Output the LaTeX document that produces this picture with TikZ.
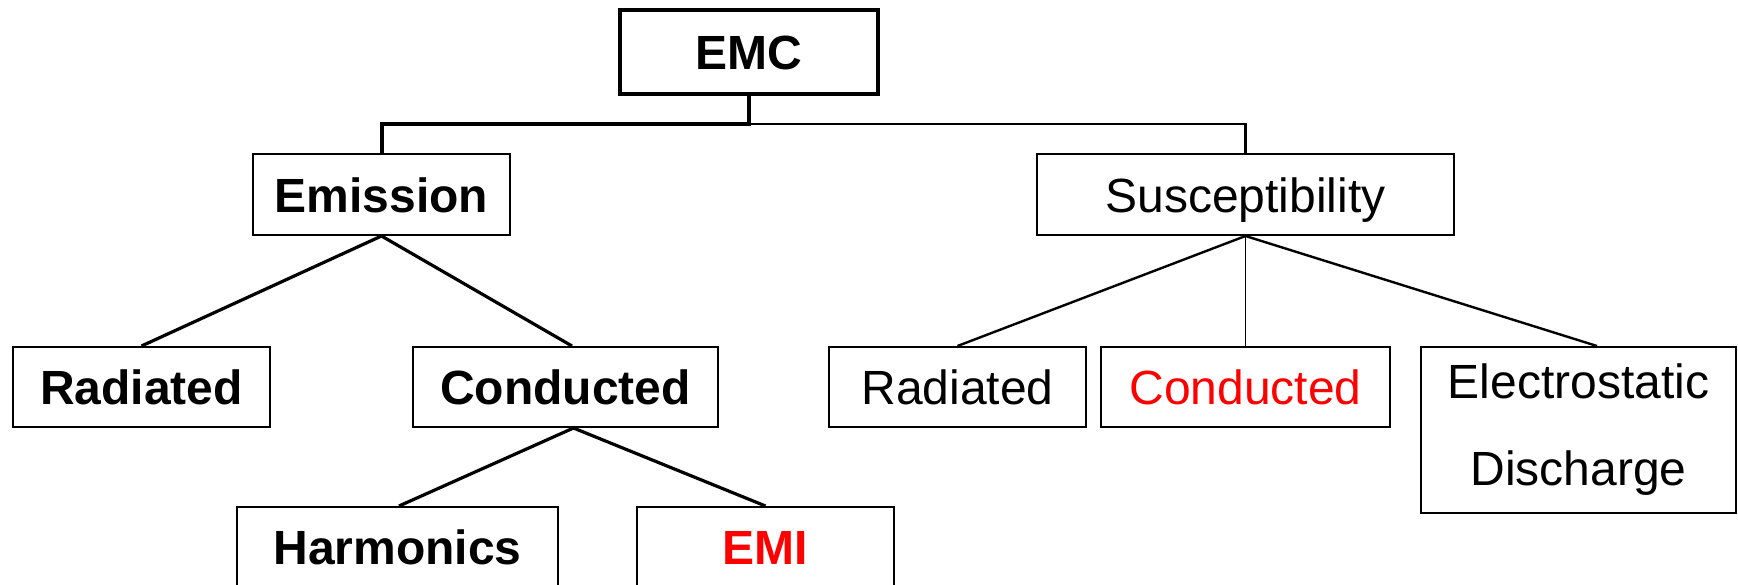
\documentclass[tikz,border=0pt]{standalone}
\usepackage{fontspec}
\setmainfont{Liberation Sans}
\begin{document}
\begin{tikzpicture}[x=1pt,y=-1pt,
  box/.style={draw, line width=2pt, inner sep=0pt, font=\fontsize{48}{57}\selectfont},
  oneline/.style={text height=35pt, text depth=0pt},
  bbox/.style={box, oneline, font=\fontsize{48}{57}\selectfont\bfseries},
  rbox/.style={box, oneline},
  thickcon/.style={line width=4pt},
  medcon/.style={line width=3.2pt},
  thincon/.style={line width=2.4pt},
  hair/.style={line width=1.6pt}]
\useasboundingbox (0,0) rectangle (1738,584);
\fill[white] (0,0) rectangle (1738,584);

\node[bbox, line width=4.5pt, minimum width=258pt, minimum height=84pt] (emc) at (749,52) {EMC};
\node[bbox, minimum width=257pt, minimum height=81pt] (emission) at (381.5,194.5) {Emission};
\node[rbox, minimum width=417pt, minimum height=81pt] (susc) at (1245.5,194.5) {Susceptibility};

\node[bbox, minimum width=257pt, minimum height=80pt] (rad1) at (141.5,387) {Radiated};
\node[bbox, minimum width=305pt, minimum height=80pt] (cond1) at (565.5,387) {Conducted};
\node[rbox, minimum width=257pt, minimum height=80pt] (rad2) at (957.5,387) {Radiated};
\node[rbox, text=red, minimum width=289pt, minimum height=80pt] (cond2) at (1245.5,387) {Conducted};
\node[box, align=center, font=\fontsize{48}{87}\selectfont, minimum width=315pt, minimum height=166pt] (esd) at (1578.5,430) {Electrostatic\\Discharge};

\node[bbox, minimum width=321pt, minimum height=80pt] (harm) at (397.5,547) {Harmonics};
\node[bbox, text=red, minimum width=257pt, minimum height=80pt] (emi) at (765.5,547) {EMI};

\coordinate (j) at (749,124);
\draw[thickcon] (emc.south) -- (j) -| (emission.north);
\draw[thincon] (j) -| (susc.north);

\draw[medcon] (emission.south) -- (rad1.north);
\draw[medcon] (emission.south) -- ([xshift=6.5pt]cond1.north);
\draw[medcon] ([xshift=8pt]cond1.south) -- ([xshift=1.5pt]harm.north);
\draw[medcon] ([xshift=8pt]cond1.south) -- (emi.north);

\draw[thincon] (susc.south) -- (rad2.north);
\draw[hair] (susc.south) -- (cond2.north);
\draw[thincon] (susc.south) -- ([xshift=18.5pt]esd.north);
\end{tikzpicture}
\end{document}
